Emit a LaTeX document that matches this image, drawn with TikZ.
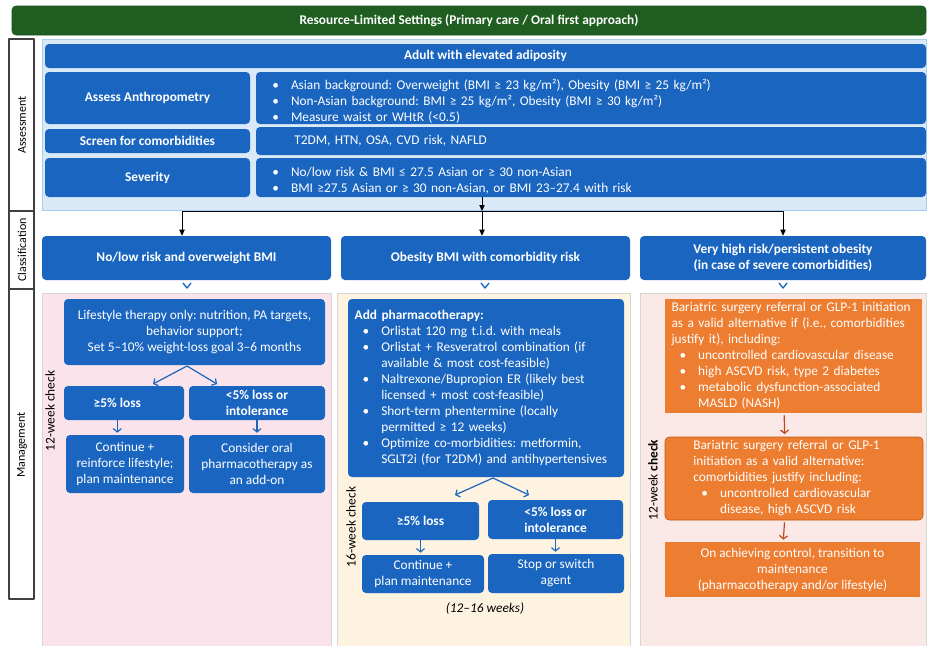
\documentclass[tikz,border=0pt]{standalone}
\usepackage{fontspec}
\setmainfont{Carlito}
\usetikzlibrary{arrows.meta}
\definecolor{boxblue}{HTML}{1A65C0}
\definecolor{titlegreen}{HTML}{1F5E20}
\definecolor{asmtfill}{HTML}{DAE9F7}
\definecolor{asmtline}{HTML}{A8CDEF}
\definecolor{pinkpanel}{HTML}{FAE3EA}
\definecolor{creampanel}{HTML}{FEF2E1}
\definecolor{rosepanel}{HTML}{FBE9E8}
\definecolor{panelline}{HTML}{D6D6D6}
\definecolor{boxorange}{HTML}{ED7D31}
\definecolor{orangeline}{HTML}{C55A11}
\definecolor{arrowred}{HTML}{C0461E}
\definecolor{colframe}{HTML}{404040}
% bullet list with hanging lines, and a forced line break
\newenvironment{bullets}{\begin{list}{•}{\setlength{\leftmargin}{20pt}\setlength{\labelwidth}{17pt}%
  \setlength{\labelsep}{0pt}\setlength{\itemindent}{0pt}\setlength{\topsep}{0pt}%
  \setlength{\partopsep}{0pt}\setlength{\itemsep}{0pt}\setlength{\parsep}{0pt}%
  \renewcommand{\makelabel}[1]{\hspace{3pt}##1\hfil}}}{\end{list}}
\newcommand{\lbrk}{\hfill\break}
\begin{document}
\frenchspacing
\begin{tikzpicture}[x=0.75pt,y=-0.75pt,line join=round,font=\fontsize{10}{12}\selectfont]
\tikzset{
  cell/.style args={#1,#2,#3,#4}{at={({(#1+#3)/2},{(#2+#4)/2})},
    minimum width={(#3-#1)*0.75pt},minimum height={(#4-#2)*0.75pt}},
  bluebox/.style={fill=boxblue,text=white,rounded corners=3pt,inner sep=0pt,align=center},
  headbox/.style={bluebox,font=\fontsize{10}{12}\selectfont\bfseries},
  listbox/.style={fill=boxblue,text=white,rounded corners=3pt,inner sep=0pt,align=left},
  orangebox/.style={fill=boxorange,text=white,inner sep=0pt,align=left},
  sidelabel/.style={rotate=90,font=\fontsize{9}{11}\selectfont},
  checklabel/.style={rotate=90},
  blackarrow/.style={-{Triangle[length=4.5pt,width=4pt]},black,line width=0.6pt},
  bluearrow/.style={-{Straight Barb[length=2.5pt,width=6pt]},boxblue,line width=0.9pt},
  redarrow/.style={-{Straight Barb[length=2.5pt,width=6pt]},arrowred,line width=0.9pt},
}
\useasboundingbox[fill=white] (0,0) rectangle (928,646);
% title bar
\node[fill=titlegreen,draw=titlegreen!85!black,rounded corners=3pt,inner sep=0pt,text=white,
  font=\fontsize{10}{12}\selectfont\bfseries,cell={12,6,926,35}] (title)
  {Resource-Limited Settings (Primary care / Oral first approach)};
% left column
\draw[colframe,line width=1.2pt] (9,39) rectangle (34,599);
\draw[colframe,line width=1pt] (9,211) -- (34,211) (9,289) -- (34,289);
\node[sidelabel] (lblAsmt) at (22,125) {Assessment};
\node[sidelabel] (lblClass) at (22,250) {Classification};
\node[sidelabel] (lblMgmt) at (22,445) {Management};
% backgrounds
\filldraw[fill=asmtfill,draw=asmtline] (42,39) rectangle (926,210);
\filldraw[fill=pinkpanel,draw=panelline] (42,293) rectangle (331,646);
\filldraw[fill=creampanel,draw=panelline] (337,293) rectangle (630,646);
\filldraw[fill=rosepanel,draw=panelline] (640,293) rectangle (926,646);
% assessment
\node[headbox,cell={45,44,926,68}] (adult) {Adult with elevated adiposity};
\node[headbox,cell={45,72,250,124}] (anthro) {Assess Anthropometry};
\node[listbox,text width=490pt,cell={256,72,926,124}] (anthroR)
  {\begin{bullets}
   \item Asian background: Overweight (BMI ≥ 23 kg/m²), Obesity (BMI ≥ 25 kg/m²)
   \item Non-Asian background: BMI ≥ 25 kg/m², Obesity (BMI ≥ 30 kg/m²)
   \item Measure waist or WHtR (<0.5)
   \end{bullets}};
\node[headbox,cell={45,129,250,153}] (screen) {Screen for comorbidities};
\node[listbox,text width=445pt,cell={256,127,926,155}] (screenR) {T2DM, HTN, OSA, CVD risk, NAFLD};
\node[headbox,cell={45,158,250,197}] (sev) {Severity};
\node[listbox,text width=490pt,cell={256,158,926,197}] (sevR)
  {\begin{bullets}
   \item No/low risk \& BMI ≤ 27.5 Asian or ≥ 30 non-Asian
   \item BMI ≥27.5 Asian or ≥ 30 non-Asian, or BMI 23–27.4 with risk
   \end{bullets}};
% classification
\node[headbox,cell={42,236,331,280}] (clsA) {No/low risk and overweight BMI};
\node[headbox,cell={341,236,630,280}] (clsB) {Obesity BMI with comorbidity risk};
\node[headbox,cell={640,236,926,280}] (clsC) {Very high risk/persistent obesity\\(in case of severe comorbidities)};
\coordinate (split) at (482,211);
\coordinate (splitL) at (182,211);
\coordinate (splitR) at (783,211);
\draw[blackarrow] (sevR.south -| split) -- (split);
\draw[line width=0.6pt] (splitL) -- (splitR);
\draw[blackarrow] (splitL) -- (splitL |- clsA.north);
\draw[blackarrow] (split) -- (split |- clsB.north);
\draw[blackarrow] (splitR) -- (splitR |- clsC.north);
\foreach \cx in {187,485,783}
  \draw[boxblue,line width=1pt] (\cx-4,283) -- (\cx,288) -- (\cx+4,283);
% management: lifestyle
\node[checklabel] (chkA) at (50,411) {12-week check};
\node[bluebox,cell={64,299,325,365}] (life) {Lifestyle therapy only: nutrition, PA targets,\\behavior support;\\Set 5–10\% weight-loss goal 3–6 months};
\node[headbox,cell={64,386,184,420}] (gainA) {≥5\% loss\hspace*{10pt}};
\node[headbox,cell={189,386,325,420}] (dropA) {<5\% loss or\\intolerance};
\node[bluebox,cell={66,435,184,493}] (keepA) {Continue +\\reinforce lifestyle;\\plan maintenance};
\node[bluebox,cell={189,435,325,493}] (addA) {Consider oral\\pharmacotherapy as\\an add-on};
\coordinate (forkA) at (187,366);
\coordinate (toGainA) at (153,384);
\coordinate (toDropA) at (217,384);
\draw[bluearrow] (forkA) -- (toGainA);
\draw[bluearrow] (forkA) -- (toDropA);
\draw[bluearrow] ([xshift=-5pt]gainA.south) -- ([xshift=-5pt,yshift=1.5pt]gainA.south |- keepA.north);
\draw[bluearrow] (dropA.south) -- ([yshift=1.5pt]dropA.south |- addA.north);
% management: pharmacotherapy
\node[checklabel] (chkB) at (351,527) {16-week check};
\node[listbox,text width=197pt,cell={348,299,624,477}] (pharm)
  {\textbf{Add pharmacotherapy:}
   \begin{bullets}
   \item Orlistat 120 mg t.i.d. with meals
   \item Orlistat + Resveratrol combination (if\lbrk available \& most cost-feasible)
   \item Naltrexone/Bupropion ER (likely best\lbrk licensed + most cost-feasible)
   \item Short-term phentermine (locally\lbrk permitted ≥ 12 weeks)
   \item Optimize co-morbidities: metformin,\lbrk SGLT2i (for T2DM) and antihypertensives
   \end{bullets}};
\node[headbox,cell={362,502,479,540}] (gainB) {≥5\% loss};
\node[headbox,cell={488,500,623,539}] (dropB) {<5\% loss or\\intolerance};
\node[bluebox,cell={362,555,484,593}] (keepB) {Continue +\\plan maintenance};
\node[bluebox,cell={488,554,624,593}] (switchB) {Stop or switch\\agent};
\node[font=\fontsize{10}{12}\selectfont\itshape] (weeksB) at (485,609) {(12–16 weeks)};
\coordinate (forkB) at (493,478);
\coordinate (toGainB) at (455,495);
\coordinate (toDropB) at (529,495);
\draw[bluearrow] (forkB) -- (toGainB);
\draw[bluearrow] (forkB) -- (toDropB);
\draw[bluearrow] (gainB.south) -- ([yshift=1.5pt]gainB.south |- keepB.north);
\draw[bluearrow] (dropB.south) -- ([yshift=1.5pt]dropB.south |- switchB.north);
% management: surgery / GLP-1
\node[checklabel] (chkC) at (653,480) {12-week \textbf{check}};
\node[orangebox,text width=183pt,cell={665,299,922,413}] (barA)
  {Bariatric surgery referral or GLP-1 initiation\lbrk as a valid alternative if (i.e., comorbidities\lbrk justify it), including:
   \begin{bullets}
   \item uncontrolled cardiovascular disease
   \item high ASCVD risk, type 2 diabetes
   \item metabolic dysfunction-associated\lbrk MASLD (NASH)
   \end{bullets}};
\node[orangebox,draw=orangeline,rounded corners=3pt,text width=151pt,cell={665,437,923,520}] (barB)
  {Bariatric surgery referral or GLP-1\lbrk initiation as a valid alternative:\lbrk comorbidities justify including:
   \begin{bullets}
   \item uncontrolled cardiovascular\lbrk disease, high ASCVD risk
   \end{bullets}};
\node[orangebox,align=center,cell={665,542,920,597}] (maint)
  {On achieving control, transition to\\maintenance\\(pharmacotherapy and/or lifestyle)};
\draw[redarrow,shorten <=1.5pt,shorten >=2pt] ([xshift=-7pt]barA.south) -- ([xshift=-7pt]barB.north);
\draw[redarrow,shorten <=1.5pt,shorten >=1.5pt] ([xshift=-7pt]barB.south) -- ([xshift=-7pt]maint.north);
\end{tikzpicture}
\end{document}
